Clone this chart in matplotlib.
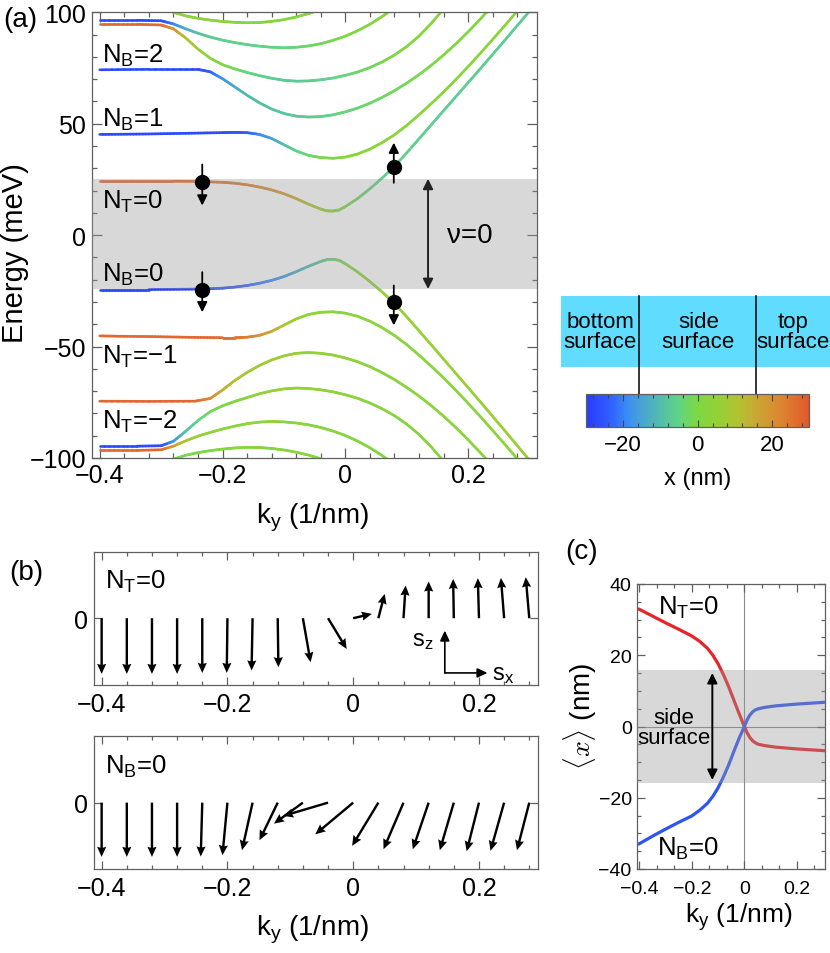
import numpy as np
import matplotlib
matplotlib.use('Agg')
import matplotlib.pyplot as plt
from matplotlib.collections import LineCollection
from matplotlib.colors import LinearSegmentedColormap, Normalize
from matplotlib.ticker import MultipleLocator
from matplotlib.patches import Rectangle
import matplotlib.colorbar as mcb

plt.rcParams['font.family'] = ['Liberation Sans', 'DejaVu Sans']
plt.rcParams['mathtext.fontset'] = 'custom'
plt.rcParams['mathtext.rm'] = 'Liberation Sans'
plt.rcParams['mathtext.it'] = 'Liberation Sans:italic'
plt.rcParams['mathtext.bf'] = 'Liberation Sans:bold'

# ---------------- data: panel (a) bands (ky, energy meV, <x> nm colour) ----------------
ky_c0 = [-0.40,-0.36,-0.32,-0.28,-0.24,-0.20,-0.18,-0.16,-0.14,-0.12,-0.10,-0.08,-0.06,-0.04,-0.03,-0.02,-0.01,0.00,
         0.02,0.04,0.06,0.08,0.10,0.12,0.14,0.16,0.18,0.20,0.22,0.24,0.26,0.28,0.30]
en_c0 = [24.2,24.2,24.2,24.2,24.1,23.7,23.3,22.6,21.6,20.3,18.6,16.4,13.9,11.7,10.9,10.8,11.3,12.8,
         16.4,20.8,25.6,30.9,36.9,43.2,49.5,55.8,62.1,68.4,74.7,81.1,87.5,94.0,100.5]
xc_c0 = [28,28,28,28,27,25.5,24.5,23.5,22,20,18,15,11.5,7.5,5.5,3.5,1.5,0,
         -3,-4.5,-5.1,-5.5,-5.7,-5.9,-6.0,-6.1,-6.2,-6.3,-6.4,-6.5,-6.6,-6.7,-6.8]

ky_c1 = [-0.40,-0.36,-0.32,-0.28,-0.24,-0.20,-0.18,-0.16,-0.14,-0.12,-0.10,-0.08,-0.06,-0.04,-0.02,0.00,
         0.02,0.04,0.06,0.08,0.10,0.12,0.14,0.16,0.18,0.20,0.22,0.24,0.26,0.28]
en_c1 = [45.2,45.3,45.4,45.6,45.8,46.0,46.1,46.0,45.2,43.4,40.6,37.8,35.8,34.8,34.5,35.0,
         36.4,38.6,41.5,45.0,49.2,54.0,59.0,64.2,69.8,75.6,81.6,87.8,94.1,100.5]
xc_c1 = [-27,-27,-27,-27,-27,-26.5,-25.5,-24,-20,-15,-10,-6,-3,-1,0,1,
         2,2.5,3,3,3,3,3,3,3,3,3,3,3,3]

ky_c2 = [-0.40,-0.32,-0.24,-0.22,-0.20,-0.18,-0.16,-0.14,-0.12,-0.10,-0.08,-0.06,-0.04,-0.02,0.00,
         0.02,0.04,0.06,0.08,0.10,0.12,0.14,0.16,0.18,0.20,0.22,0.24]
en_c2 = [74.2,74.4,74.4,73.3,70.2,66.5,62.8,59.4,56.6,54.6,53.4,53.0,53.2,54.0,55.3,
         57.0,59.2,61.8,64.8,68.2,72.0,76.2,80.8,85.8,91.2,97.0,103.0]
xc_c2 = [-27,-27,-27,-24,-18,-14,-11,-9.5,-8.5,-8,-7.5,-7,-6,-5,-4,
         -3.5,-3,-2.5,-2,-1.5,-1,-0.5,0,0,0,0,0]

ky_c3 = [-0.40,-0.34,-0.30,-0.28,-0.26,-0.24,-0.22,-0.20,-0.18,-0.16,-0.14,-0.12,-0.10,-0.08,-0.06,-0.04,-0.02,0.00,
         0.02,0.04,0.06,0.08,0.10,0.12,0.14,0.16]
en_c3 = [94.6,94.6,94.3,92.6,88.5,83.5,79.4,76.5,74.6,73.0,71.6,70.4,69.5,69.1,69.2,69.7,70.5,71.7,
         73.2,75.2,77.7,80.8,84.6,89.3,95.0,101.5]
xc_c3 = [27,27,27,20,12,7,3,0,-2,-4,-5.5,-6.5,-7,-7,-6.5,-6,-5,-4,
         -3,-2,-1,0,0.5,1,1.5,2]

ky_c4 = [-0.40,-0.34,-0.30,-0.28,-0.26,-0.24,-0.22,-0.20,-0.18,-0.16,-0.14,-0.12,-0.10,-0.08,-0.06,-0.04,-0.02,0.00,
         0.02,0.04,0.06,0.08]
en_c4 = [96.4,96.4,96.2,94.8,92.6,90.6,88.9,87.5,86.4,85.5,84.8,84.3,84.1,84.3,84.9,85.9,87.4,89.3,
         91.7,94.6,98.1,102.0]
xc_c4 = [-27,-27,-27,-20,-13,-9,-7,-6,-5.5,-5,-5,-4.5,-4,-3.5,-3,-2,-1,0,
         1,1.5,2,2]

ky_c5 = [-0.29,-0.28,-0.26,-0.24,-0.22,-0.20,-0.18,-0.16,-0.14,-0.12,-0.10,-0.08,-0.06,-0.05]
en_c5 = [101.5,100.0,98.4,97.3,96.5,95.9,95.5,95.3,95.4,95.9,96.7,97.9,99.4,100.4]
xc_c5 = [7,6,4.5,3.5,2.5,2,1.5,1,1,1,1.5,2,2,2]

ky_v0 = [-0.40,-0.36,-0.32,-0.28,-0.24,-0.20,-0.18,-0.16,-0.14,-0.12,-0.10,-0.08,-0.06,-0.04,-0.03,-0.02,-0.01,0.00,
         0.02,0.04,0.06,0.08,0.10,0.12,0.14,0.16,0.18,0.20,0.22,0.24,0.26,0.28,0.30]
en_v0 = [-24.4,-24.4,-24.4,-24.3,-24.2,-23.8,-23.3,-22.6,-21.6,-20.3,-18.6,-16.4,-14.0,-11.8,-11.0,-10.8,-11.3,-12.8,
         -16.5,-20.8,-25.5,-30.6,-36.6,-42.9,-49.2,-55.6,-62.0,-68.4,-74.8,-81.3,-87.8,-94.4,-101.0]
xc_v0 = [-28,-28,-28,-28,-27,-25.5,-24.5,-23,-21,-19,-17,-14.5,-11,-7.5,-5.5,-3.5,-1.5,0,
         3,4.5,5.2,5.6,5.8,6.0,6.1,6.2,6.3,6.4,6.5,6.6,6.7,6.8,6.8]

ky_v1 = [-0.40,-0.36,-0.32,-0.28,-0.24,-0.20,-0.18,-0.16,-0.14,-0.12,-0.10,-0.08,-0.06,-0.04,-0.02,0.00,
         0.02,0.04,0.06,0.08,0.10,0.12,0.14,0.16,0.18,0.20,0.22,0.24,0.26,0.28]
en_v1 = [-45.2,-45.4,-45.5,-45.7,-45.9,-46.0,-46.0,-45.8,-45.0,-43.2,-40.4,-37.6,-35.6,-34.6,-34.4,-35.0,
         -36.4,-38.6,-41.5,-45.0,-49.1,-53.8,-58.8,-64.0,-69.6,-75.4,-81.4,-87.6,-93.9,-100.3]
xc_v1 = [27,27,27,27,27,26.5,25.5,24,20,15,10,6.5,4.5,3.5,3,3,
         3,3,3,3,3,3,3,3,3,3,3,3,3,3]

ky_v2 = [-0.40,-0.32,-0.245,-0.22,-0.20,-0.18,-0.16,-0.14,-0.12,-0.10,-0.08,-0.06,-0.04,-0.02,0.00,
         0.02,0.04,0.06,0.08,0.10,0.12,0.14,0.16,0.18,0.20,0.22,0.24]
en_v2 = [-74.5,-74.6,-74.5,-73.3,-69.5,-65.2,-61.6,-58.5,-56.0,-54.2,-53.0,-52.7,-53.0,-53.8,-55.1,
         -56.8,-59.0,-61.7,-64.8,-68.3,-72.2,-76.5,-81.2,-86.3,-91.8,-97.6,-103.6]
xc_v2 = [27,27,27,22,15,11,9,8,7,6.5,6,5.5,5,4.5,4,
         3.8,3.6,3.4,3.2,3,3,3,3,3,3,3,3]

ky_v3 = [-0.40,-0.34,-0.30,-0.28,-0.26,-0.24,-0.22,-0.20,-0.18,-0.16,-0.14,-0.12,-0.10,-0.08,-0.06,-0.04,-0.02,0.00,
         0.02,0.04,0.06,0.08,0.10,0.12,0.14,0.16]
en_v3 = [-94.7,-94.7,-94.5,-92.5,-88.0,-83.2,-79.2,-76.6,-74.6,-72.9,-71.2,-69.9,-69.0,-68.6,-68.8,-69.4,-70.3,-71.6,
         -73.2,-75.3,-77.9,-81.0,-84.8,-89.4,-95.0,-101.4]
xc_v3 = [-27,-27,-27,-18,-10,-5,-2,0,1.5,3,4,5,5.5,6,5.5,5,4.5,4,
         3.5,3,2.5,2,2,2,2,2]

ky_v4 = [-0.40,-0.34,-0.30,-0.28,-0.26,-0.24,-0.22,-0.20,-0.18,-0.16,-0.14,-0.12,-0.10,-0.08,-0.06,-0.04,-0.02,0.00,
         0.02,0.04,0.06,0.08]
en_v4 = [-96.6,-96.6,-96.3,-94.7,-92.3,-90.2,-88.5,-87.0,-85.7,-84.6,-83.9,-83.6,-83.8,-84.3,-85.1,-86.3,-87.9,-89.9,
         -92.4,-95.4,-98.9,-103.0]
xc_v4 = [27,27,27,18,10,6,4.5,4,3.5,3,3,3,2.5,2.5,2,2,2,1.5,
         1.5,1,1,1]

ky_v5 = [-0.29,-0.28,-0.26,-0.24,-0.22,-0.20,-0.18,-0.16,-0.14,-0.12,-0.10,-0.08,-0.06,-0.04,-0.035]
en_v5 = [-101.5,-100.5,-98.8,-97.6,-96.7,-96.0,-95.5,-95.2,-95.3,-95.7,-96.4,-97.4,-98.7,-100.3,-100.8]
xc_v5 = [-3,-2,-1,0,0.5,1,1.5,2,2,2,2,2.5,2.5,2.5,2.5]

gap_lo, gap_hi = -24.2, 25.3
band_labels = [r'$\mathregular{N_B}$=2', r'$\mathregular{N_B}$=1', r'$\mathregular{N_T}$=0',
               r'$\mathregular{N_B}$=0', r'$\mathregular{N_T}$=−1', r'$\mathregular{N_T}$=−2']
band_label_e = [77.6, 48.9, 12.3, -20.6, -57.3, -86.4]

dot_ky = [-0.233, 0.079, -0.233, 0.079]
dot_e = [24.0, 30.7, -24.4, -30.1]
spin_from = [31.7, 23.5, -16.6, -22.6]
spin_to = [13.3, 41.5, -34.6, -40.5]

# ---------------- data: panel (b) spin arrows ----------------
ky_spin = [-0.40,-0.36,-0.32,-0.28,-0.24,-0.20,-0.16,-0.12,-0.08,-0.04,0.00,0.04,0.08,0.12,0.16,0.20,0.24,0.28]
sx_T = [0,0,0,0,0,-0.01,-0.015,0.01,0.116,0.28,0.28,0.095,0.032,0,-0.01,-0.017,-0.048,-0.053]
sz_T = [-0.838,-0.838,-0.838,-0.838,-0.823,-0.823,-0.786,-0.737,-0.662,-0.462,0.065,0.365,0.492,0.552,0.591,0.602,0.606,0.617]
sx_B = [0,0,0,0,-0.023,-0.075,-0.159,-0.275,-0.436,-0.677,-0.571,-0.395,-0.301,-0.239,-0.211,-0.185,-0.205,-0.185]
sz_B = [-0.817,-0.817,-0.817,-0.817,-0.812,-0.792,-0.717,-0.567,-0.316,-0.200,-0.477,-0.651,-0.702,-0.702,-0.717,-0.732,-0.726,-0.717]

# ---------------- data: panel (c) <x> ----------------
ky_pos = [-0.40,-0.35,-0.30,-0.25,-0.20,-0.17,-0.14,-0.12,-0.10,-0.08,-0.06,-0.04,-0.02,0.00,
          0.01,0.02,0.03,0.04,0.05,0.06,0.08,0.12,0.20,0.307]
x_top = [32.9,31.0,29.1,27.3,25.4,23.9,21.9,20.0,17.6,14.6,11.2,7.4,3.6,0.0,
         -1.7,-3.0,-3.9,-4.5,-4.9,-5.1,-5.4,-5.8,-6.3,-6.8]
x_bot = [-32.9,-30.8,-28.8,-26.9,-25.1,-23.5,-21.5,-19.6,-17.2,-14.2,-10.8,-7.0,-3.3,0.0,
         1.8,3.1,4.0,4.6,4.9,5.1,5.4,5.8,6.3,6.8]
side_half = 15.8

# colormap nodes (x in nm)
cm_vals = [-30,-24,-19,-15,-10,-5,0,6,11,16,21,26,30]
cm_cols = ['#2a3bff','#2f5cff','#3a8cf6','#48a4d2','#54bdac','#5fd486','#7ed842',
           '#96d036','#b2c231','#caa632','#d98c33','#e0712f','#e2572a']

# ---------------- figure ----------------
W, H = 830, 954
def fbox(l, t, r, b):
    return [l / W, 1 - b / H, (r - l) / W, (b - t) / H]

cmap = LinearSegmentedColormap.from_list('xpos', [((v + 30) / 60, c) for v, c in zip(cm_vals, cm_cols)])
norm = Normalize(-30, 30)
FRAME = '#606060'

fig = plt.figure(figsize=(8.3, 9.54), dpi=100)

def style(ax, lab, pad_x, pad_y, maj, mnr):
    for s in ax.spines.values():
        s.set_color(FRAME); s.set_linewidth(0.9)
    ax.tick_params(which='both', direction='in', top=True, right=True, color=FRAME, width=0.9, labelsize=lab)
    ax.tick_params(which='major', length=maj)
    ax.tick_params(which='minor', length=mnr)
    ax.tick_params(axis='x', pad=pad_x)
    ax.tick_params(axis='y', pad=pad_y)

def colored_line(ax, k, e, c, lw):
    k = np.asarray(k, float); e = np.asarray(e, float); c = np.asarray(c, float)
    segs, vals = [], []
    n = 8
    for i in range(len(k) - 1):
        t = np.linspace(0, 1, n + 1)
        kk = k[i] + (k[i + 1] - k[i]) * t
        ee = e[i] + (e[i + 1] - e[i]) * t
        cc = c[i] + (c[i + 1] - c[i]) * t
        for j in range(n):
            segs.append([(kk[j], ee[j]), (kk[j + 1], ee[j + 1])])
            vals.append(0.5 * (cc[j] + cc[j + 1]))
    lc = LineCollection(segs, cmap=cmap, norm=norm, linewidths=lw, capstyle='round', zorder=2)
    lc.set_array(np.array(vals))
    ax.add_collection(lc)

# ---- panel (a)
axA = fig.add_axes(fbox(91.5, 13.3, 536.7, 459))
axA.set_xlim(-0.4134, 0.3118)
axA.set_ylim(-100, 100)
bands = [(ky_c0, en_c0, xc_c0), (ky_c1, en_c1, xc_c1), (ky_c2, en_c2, xc_c2), (ky_c3, en_c3, xc_c3),
         (ky_c4, en_c4, xc_c4), (ky_c5, en_c5, xc_c5), (ky_v0, en_v0, xc_v0), (ky_v1, en_v1, xc_v1),
         (ky_v2, en_v2, xc_v2), (ky_v3, en_v3, xc_v3), (ky_v4, en_v4, xc_v4), (ky_v5, en_v5, xc_v5)]
for k, e, c in bands:
    colored_line(axA, k, e, c, 1.9)
axA.axhspan(gap_lo, gap_hi, color=(0.6, 0.6, 0.6), alpha=0.375, lw=0, zorder=3)
for lab, ye in zip(band_labels, band_label_e):
    axA.text(-0.397, ye, lab, fontsize=18.5, ha='left', va='baseline', zorder=6)
axA.plot(dot_ky, dot_e, 'o', color='k', ms=10, zorder=7)
for kx, y0, y1 in zip(dot_ky, spin_from, spin_to):
    axA.annotate('', xy=(kx, y1), xytext=(kx, y0),
                 arrowprops=dict(arrowstyle='-|>,head_length=0.6,head_width=0.3', color='k', lw=1.3,
                                 shrinkA=0, shrinkB=0), zorder=6)
axA.annotate('', xy=(0.1348, gap_hi), xytext=(0.1348, gap_lo),
             arrowprops=dict(arrowstyle='<|-|>,head_length=0.6,head_width=0.3', color='#222222', lw=1.4,
                             shrinkA=0, shrinkB=0), zorder=6)
axA.text(0.2025, 0, 'ν=0', fontsize=20, ha='center', va='center', zorder=6)
axA.set_xticks([-0.4, -0.2, 0, 0.2]); axA.set_xticklabels(['−0.4', '−0.2', '0', '0.2'])
axA.set_yticks([-100, -50, 0, 50, 100]); axA.set_yticklabels(['−100', '−50', '0', '50', '100'])
axA.xaxis.set_minor_locator(MultipleLocator(0.04))
axA.yaxis.set_minor_locator(MultipleLocator(10))
style(axA, 18, 3.3, 4.0, 7, 3.5)

# ---- colorbar + surface legend
cax = fig.add_axes(fbox(586, 395, 809.3, 428.3))
cb = mcb.ColorbarBase(cax, cmap=cmap, norm=norm, orientation='horizontal')
cb.set_ticks([-20, 0, 20]); cb.set_ticklabels(['−20', '0', '20'])
cax.xaxis.set_minor_locator(MultipleLocator(4))
cax.tick_params(which='both', direction='in', top=True, bottom=True, color='#444444', width=0.8, labelsize=16, pad=4.8)
cax.tick_params(which='major', length=5)
cax.tick_params(which='minor', length=3)
cb.outline.set_edgecolor(FRAME); cb.outline.set_linewidth(0.9)
ytop = 1 + (395 - 296.7) / 33.3
ybox = 1 + (395 - 367.7) / 33.3
cax.add_patch(Rectangle(((561 - 586) / 223.3, ybox), (830 - 561) / 223.3, ytop - ybox,
                        transform=cax.transAxes, facecolor='#60dcff', edgecolor='none', clip_on=False, zorder=1))
for xs in (-side_half, side_half):
    cax.plot([xs, xs], [1, ytop], transform=cax.get_xaxis_transform(), color='k', lw=1.1, clip_on=False, zorder=2)
for xc, t in [(600, 'bottom\nsurface'), (698.3, 'side\nsurface'), (793.3, 'top\nsurface')]:
    fig.text(xc / W, 1 - 332.8 / H, t, fontsize=16, ha='center', va='center', linespacing=0.95)
fig.text(698 / W, 1 - 485 / H, 'x (nm)', fontsize=17, ha='center', va='baseline')

# ---- panel (b)
for (top, bot), sx, sz, lab in [((552.7, 685.7), sx_T, sz_T, r'$\mathregular{N_T}$=0'),
                                 ((737.3, 870), sx_B, sz_B, r'$\mathregular{N_B}$=0')]:
    ax = fig.add_axes(fbox(93.6, top, 537.7, bot))
    ax.set_xlim(-0.4128, 0.2934); ax.set_ylim(-1, 1)
    ax.quiver(ky_spin, np.zeros(len(ky_spin)), sx, sz, angles='uv', scale_units='y', scale=1,
              units='dots', width=2.4, headwidth=3.8, headlength=4.2, headaxislength=3.8,
              color='k', zorder=3)
    ax.set_xticks([-0.4, -0.2, 0, 0.2]); ax.set_xticklabels(['−0.4', '−0.2', '0', '0.2'])
    ax.xaxis.set_minor_locator(MultipleLocator(0.04))
    ax.set_yticks([0]); ax.set_yticklabels(['0'])
    style(ax, 18, 5.0, 4.3, 6, 3)
    ax.text(-0.394, 0.45, lab, fontsize=18.5, ha='left', va='baseline')
    if lab.endswith('T}$=0'):
        corner = (0.1457, -0.823)
        ax.annotate('', xy=(corner[0], -0.186), xytext=corner,
                    arrowprops=dict(arrowstyle='-|>,head_length=0.6,head_width=0.28', color='k', lw=1.2,
                                    shrinkA=0, shrinkB=0))
        ax.annotate('', xy=(0.2136, corner[1]), xytext=corner,
                    arrowprops=dict(arrowstyle='-|>,head_length=0.6,head_width=0.28', color='k', lw=1.2,
                                    shrinkA=0, shrinkB=0))
        ax.text(0.1105, -0.323, r'$\mathregular{s_z}$', fontsize=17, ha='center', va='center')
        ax.text(0.2387, -0.838, r'$\mathregular{s_x}$', fontsize=17, ha='center', va='center')

# ---- panel (c)
axC = fig.add_axes(fbox(636.7, 585, 825, 870))
axC.set_xlim(-0.41, 0.307); axC.set_ylim(-40, 40)
axC.axvline(0, color='#8a8a8a', lw=0.8, zorder=1)
axC.axhline(0, color='#8a8a8a', lw=0.8, zorder=1)
axC.plot(ky_pos, x_top, color='#e8242a', lw=2.3, zorder=2, solid_joinstyle='round')
axC.plot(ky_pos, x_bot, color='#2f55f0', lw=2.3, zorder=2, solid_joinstyle='round')
axC.axhspan(-side_half, side_half, color=(0.6, 0.6, 0.6), alpha=0.375, lw=0, zorder=3)
axC.annotate('', xy=(-0.122, 15), xytext=(-0.122, -15),
             arrowprops=dict(arrowstyle='<|-|>,head_length=0.6,head_width=0.3', color='k', lw=1.4,
                             shrinkA=0, shrinkB=0), zorder=5)
axC.text(-0.268, -0.3, 'side\nsurface', fontsize=16, ha='center', va='center', linespacing=0.95, zorder=5)
axC.text(-0.213, 31.6, r'$\mathregular{N_T}$=0', fontsize=18.5, ha='center', va='baseline')
axC.text(-0.213, -36.1, r'$\mathregular{N_B}$=0', fontsize=18.5, ha='center', va='baseline')
axC.set_xticks([-0.4, -0.2, 0, 0.2]); axC.set_xticklabels(['−0.4', '−0.2', '0', '0.2'])
axC.set_yticks([-40, -20, 0, 20, 40]); axC.set_yticklabels(['−40', '−20', '0', '20', '40'])
axC.xaxis.set_minor_locator(MultipleLocator(0.2 / 3))
axC.yaxis.set_minor_locator(MultipleLocator(5))
style(axC, 14, 8.0, 3.6, 6, 3)

# ---- labels
fig.text(20 / W, 1 - 20 / H, '(a)', fontsize=20, ha='center', va='center')
fig.text(26.3 / W, 1 - 573.3 / H, '(b)', fontsize=20, ha='center', va='center')
fig.text(581.7 / W, 1 - 552.5 / H, '(c)', fontsize=20, ha='center', va='center')
fig.text(15 / W, 1 - 253 / H, 'Energy (meV)', rotation=90, fontsize=21, ha='center', va='center')
kl = r'$\mathregular{k_y}$ (1/nm)'
fig.text(312 / W, 1 - 523.6 / H, kl, fontsize=20, ha='center', va='baseline')
fig.text(312 / W, 1 - 935.3 / H, kl, fontsize=20, ha='center', va='baseline')
fig.text(738.3 / W, 1 - 923 / H, kl, fontsize=19, ha='center', va='baseline')
fig.text(580 / W, 1 - 716.7 / H, r'$\langle x\rangle$ (nm)', rotation=90, fontsize=20,
         ha='center', va='center', math_fontfamily='cm')

fig.savefig('out.png', dpi=100)
